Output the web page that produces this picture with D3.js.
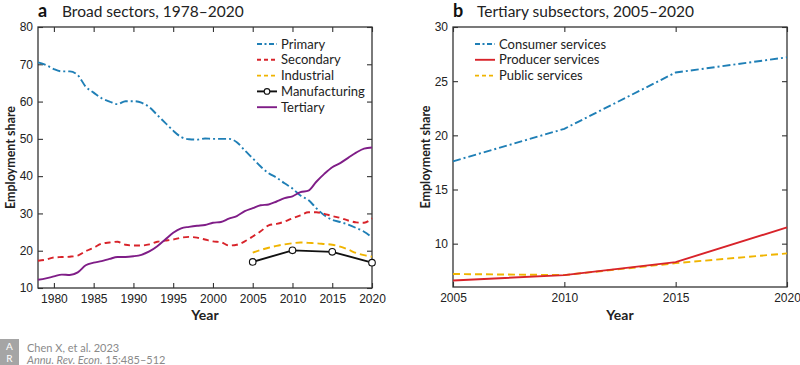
<!DOCTYPE html>
<html><head><meta charset="utf-8">
<script src="https://cdn.jsdelivr.net/npm/d3@7"></script>
<style>
body{margin:0;background:#fff;}
svg{display:block;font-family:Lato,"Open Sans",sans-serif;}
</style></head>
<body><svg id="c" width="800" height="365"></svg>
<script>
// ---------- Data ----------
const yearsA = d3.range(1978, 2021);
const primary = [70.5,69.8,68.7,68.1,68.1,67.1,64.0,62.4,60.9,60.0,59.3,60.1,60.1,59.7,58.5,56.4,54.3,52.2,50.5,49.9,49.8,50.1,50.0,50.0,50.0,49.1,46.9,44.8,42.6,40.8,39.6,38.1,36.7,34.8,33.6,31.4,29.5,28.3,27.7,27.0,26.1,25.1,23.6];
const secondary = [17.3,17.6,18.2,18.3,18.4,18.7,19.9,20.8,21.9,22.2,22.4,21.6,21.4,21.4,21.7,22.4,22.7,23.0,23.5,23.7,23.5,23.0,22.5,22.3,21.4,21.6,22.5,23.8,25.2,26.8,27.2,27.8,28.7,29.5,30.3,30.3,29.9,29.3,28.8,28.1,27.6,27.5,28.7];
const tertiary = [12.2,12.6,13.1,13.6,13.5,14.2,16.1,16.8,17.2,17.8,18.3,18.3,18.5,18.9,19.8,21.2,23.0,24.8,26.0,26.4,26.7,26.9,27.5,27.7,28.6,29.3,30.6,31.4,32.2,32.4,33.2,34.1,34.6,35.7,36.1,38.5,40.6,42.4,43.5,44.9,46.3,47.4,47.7];
const yearsInd = [2005,2006,2007,2008,2009,2010,2011,2012,2013,2014,2015,2016,2017,2018,2019,2020];
const industrial = [19.5,20.2,20.8,21.3,21.7,22.0,22.2,22.1,22.0,21.8,21.6,21.1,20.3,19.4,18.8,18.4];
const yearsMfg = [2005,2010,2015,2020];
const manufacturing = [17.0,20.1,19.7,16.8];

const yearsB = [2005,2010,2015,2020];
const consumer = [17.6,20.6,25.8,27.2];
const producer = [6.6,7.1,8.3,11.5];
const publicSv = [7.2,7.1,8.2,9.1];

const ticksAx = [1980,1985,1990,1995,2000,2005,2010,2015,2020];
const ticksAy = [10,20,30,40,50,60,70,80];
const ticksBx = [2005,2010,2015,2020];
const ticksBy = [10,15,20,25,30];

const C = {blue:"#1f7fb6", red:"#d8232a", yellow:"#f0b400", purple:"#7f1d87", black:"#111"};

const svg = d3.select("#c");

function panel(o){
  const g = svg.append("g");
  const x = d3.scaleLinear().domain(o.xd).range(o.xr);
  const y = d3.scaleLinear().domain(o.yd).range(o.yr);
  const [x0,x1] = o.xr, [y1,y0] = o.yr;
  const styleAxis = sel => {
    sel.select(".domain").remove();
    sel.selectAll("line").attr("stroke","#333").attr("stroke-width",1.1);
    sel.selectAll("text").attr("fill","#222").style("font-size","12px");
  };
  g.append("g").attr("transform",`translate(0,${y1})`)
    .call(d3.axisBottom(x).tickValues(o.xt).tickSizeInner(-5).tickSizeOuter(0).tickPadding(6).tickFormat(d3.format("d")))
    .call(styleAxis);
  g.append("g").attr("transform",`translate(0,${y0})`)
    .call(d3.axisTop(x).tickValues(o.xt).tickSizeInner(-5).tickSizeOuter(0).tickFormat(""))
    .call(styleAxis);
  g.append("g").attr("transform",`translate(${x0},0)`)
    .call(d3.axisLeft(y).tickValues(o.yt).tickSizeInner(-5).tickSizeOuter(0).tickPadding(5))
    .call(styleAxis);
  g.append("g").attr("transform",`translate(${x1},0)`)
    .call(d3.axisRight(y).tickValues(o.yt).tickSizeInner(-5).tickSizeOuter(0).tickFormat(""))
    .call(styleAxis);
  g.append("rect").attr("x",x0).attr("y",y0).attr("width",x1-x0).attr("height",y1-y0)
    .attr("fill","none").attr("stroke","#333").attr("stroke-width",1.3);
  // titles
  g.append("text").attr("x",x0).attr("y",17).attr("font-weight","bold").style("font-size","18px").attr("fill","#111").text(o.letter);
  g.append("text").attr("x",x0+24).attr("y",17).style("font-size","15.5px").attr("fill","#222").text(o.title);
  g.append("text").attr("x",(x0+x1)/2).attr("y",320).attr("text-anchor","middle").attr("font-weight","bold").style("font-size","14px").attr("fill","#222").text("Year");
  g.append("text").attr("transform",`translate(${x0-23},${(y0+y1)/2}) rotate(-90)`).attr("text-anchor","middle").attr("font-weight","bold").style("font-size","12.5px").attr("fill","#222").text("Employment share");
  return {g,x,y};
}

const A = panel({xd:[1978,2020], xr:[38,372], yd:[10,80], yr:[288,27], xt:ticksAx, yt:ticksAy, letter:"a", title:"Broad sectors, 1978–2020"});
const B = panel({xd:[2005,2020], xr:[453,787], yd:[6,30], yr:[287,27], xt:ticksBx, yt:ticksBy, letter:"b", title:"Tertiary subsectors, 2005–2020"});

function drawLine(P, xs, ys, color, dash, curve){
  const line = d3.line().x((d,i)=>P.x(xs[i])).y(d=>P.y(d)).curve(curve||d3.curveMonotoneX);
  P.g.append("path").datum(ys).attr("d",line).attr("fill","none").attr("stroke",color)
    .attr("stroke-width",1.9).attr("stroke-dasharray",dash||null);
}
const DASHDOT = "8,3,2,3", DASH = "6,4";

drawLine(A, yearsA, primary, C.blue, DASHDOT);
drawLine(A, yearsA, secondary, C.red, DASH);
drawLine(A, yearsA, tertiary, C.purple, null);
drawLine(A, yearsInd, industrial, C.yellow, "7,4");
drawLine(A, yearsMfg, manufacturing, C.black, null, d3.curveLinear);
A.g.selectAll("circle.m").data(manufacturing).join("circle").attr("class","m")
  .attr("cx",(d,i)=>A.x(yearsMfg[i])).attr("cy",d=>A.y(d)).attr("r",3.3)
  .attr("fill","#fff").attr("stroke",C.black).attr("stroke-width",1.1);

drawLine(B, yearsB, consumer, C.blue, DASHDOT, d3.curveLinear);
drawLine(B, yearsB, publicSv, C.yellow, "7,4", d3.curveLinear);
drawLine(B, yearsB, producer, C.red, null, d3.curveLinear);

// legends
function legend(items, lx, ly){
  items.forEach((it,i)=>{
    const yy = ly + i*15.8;
    svg.append("line").attr("x1",lx).attr("x2",lx+20).attr("y1",yy).attr("y2",yy)
      .attr("stroke",it.c).attr("stroke-width",1.9).attr("stroke-dasharray",it.d||null);
    if(it.m) svg.append("circle").attr("cx",lx+10).attr("cy",yy).attr("r",2.8).attr("fill","#fff").attr("stroke",it.c).attr("stroke-width",1.1);
    svg.append("text").attr("x",lx+24).attr("y",yy+4.5).style("font-size","13px").attr("fill","#222").text(it.t);
  });
}
legend([{t:"Primary",c:C.blue,d:"5,2.5,2,2.5"},{t:"Secondary",c:C.red,d:"4,3"},{t:"Industrial",c:C.yellow,d:"4,3"},{t:"Manufacturing",c:C.black,m:true},{t:"Tertiary",c:C.purple}], 257, 44);
legend([{t:"Consumer services",c:C.blue,d:"5,2.5,2,2.5"},{t:"Producer services",c:C.red},{t:"Public services",c:C.yellow,d:"4,3"}], 475, 44);

// footer
svg.append("rect").attr("x",0).attr("y",339).attr("width",19).attr("height",26).attr("fill","#a5a5a5");
svg.append("text").attr("x",9.5).attr("y",349.5).attr("text-anchor","middle").style("font-size","10px").attr("fill","#fff").text("A");
svg.append("text").attr("x",9.5).attr("y",362).attr("text-anchor","middle").style("font-size","10px").attr("fill","#fff").text("R");
svg.append("text").attr("x",27).attr("y",352).style("font-size","11px").attr("fill","#8a8a8a").text("Chen X, et al. 2023");
const t2 = svg.append("text").attr("x",27).attr("y",363.5).style("font-size","11px").attr("fill","#8a8a8a");
t2.append("tspan").attr("font-style","italic").text("Annu. Rev. Econ.");
t2.append("tspan").text(" 15:485–512");
</script></body></html>
